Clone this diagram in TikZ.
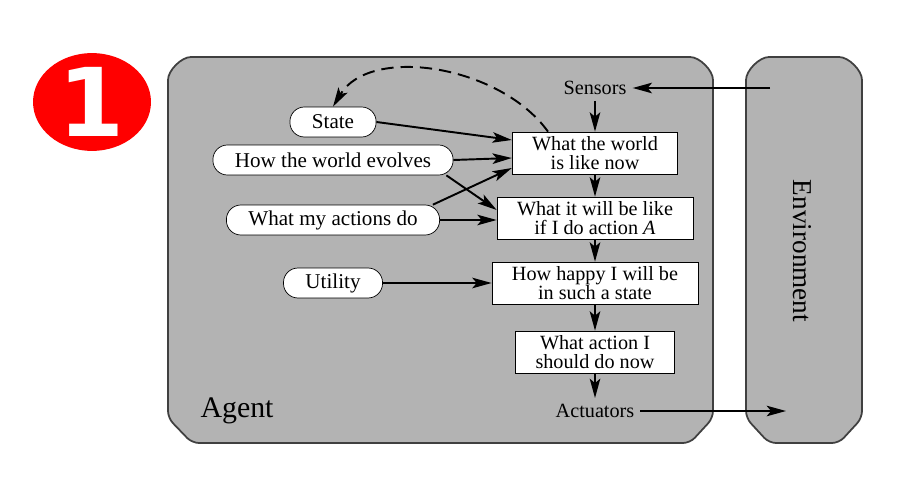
\documentclass[tikz,border=0pt]{standalone}
\usepackage{fontspec}
\setmainfont{Liberation Serif}
\newfontfamily\badgefont{DejaVu Sans}
\usetikzlibrary{arrows.meta,shapes.geometric}

\definecolor{panelgray}{HTML}{B3B3B3}
\definecolor{framegray}{HTML}{404040}

\tikzset{
    txt/.style={font=\fontsize{11.5}{10.5}\selectfont, align=center},
    knowl/.style={txt, font=\fontsize{12}{12}\selectfont, draw, fill=white, rounded corners=0.29cm, minimum height=0.6cm, inner xsep=0.44cm, inner ysep=1pt},
    stepbox/.style={txt, draw, fill=white, minimum height=0.84cm, inner xsep=0.4cm, inner ysep=1pt},
    frame/.style={draw=framegray, line width=1pt, fill=panelgray, rounded corners=4pt},
    flow/.style={line width=1.1pt, -{Stealth[length=11pt,width=6pt,inset=2.5pt]}}
}

\begin{document}
\begin{tikzpicture}[x=0.02cm, y=-0.02cm]
                \useasboundingbox (0,0) rectangle (918,486);
                % badge
                \node(badge) at(92, 102) [ellipse, fill=red, minimum width=2.36cm, minimum height=1.88cm, inner sep=0pt,
                    text=white, font=\badgefont\bfseries\fontsize{54}{54}\selectfont] {1};
                % agent and environment
                \draw[frame] (168,418) -- (168,87) arc[start angle=180, end angle=90, radius=0.6cm]
                    -- (683,57) arc[start angle=90, end angle=0, radius=0.6cm] -- (713,418) -- (690,443) -- (192,443) -- cycle;
                \draw[frame] (746,418) -- (746,87) arc[start angle=180, end angle=90, radius=0.6cm]
                    -- (832,57) arc[start angle=90, end angle=0, radius=0.6cm] -- (862,418) -- (839,443) -- (769,443) -- cycle;
                \node(agent_l) at(237, 411) [font=\fontsize{17}{17}\selectfont] {Agent};
                \node(env_l) at(802, 251) [rotate=-90, font=\fontsize{15.5}{15.5}\selectfont] {Environment};
                \coordinate(env_in) at(770, 88);
                \coordinate(env_out) at(786, 411);
                % knowledge
                \node(state_m) at(333, 122) [knowl] {State};
                \node(evol_m)  at(333, 160) [knowl] {How the world evolves};
                \node(acts_m)  at(333, 220) [knowl] {What my actions do};
                \node(util_m)  at(333, 283) [knowl] {Utility};
                % reasoning chain
                \node(sens_t) at(595, 88) [txt] {Sensors};
                \node(now_b)   at(595, 153) [stepbox] {What the world\\is like now};
                \node(will_b)  at(595, 218) [stepbox] {What it will be like\\if I do action \textit{A}};
                \node(happy_b) at(595, 283) [stepbox] {How happy I will be\\in such a state};
                \node(do_b)    at(595, 352) [stepbox] {What action I\\should do now};
                \node(actu_t) at(595, 411) [txt] {Actuators};
                \draw[flow] (env_in) -- (sens_t);
                \draw[flow] (sens_t) -- (now_b);
                \draw[flow] (now_b) -- (will_b);
                \draw[flow] (will_b) -- (happy_b);
                \draw[flow] (happy_b) -- (do_b);
                \draw[flow] (do_b) -- (actu_t);
                \draw[flow] (actu_t) -- (env_out);
                \draw[flow] (state_m.east) -- ([yshift=0.26cm]now_b.west);
                \draw[flow] (evol_m.east) -- ([yshift=-0.1cm]now_b.west);
                \draw[flow] ([xshift=-4pt]evol_m.south east) -- ([yshift=0.16cm]will_b.west);
                \draw[flow] ([xshift=-4pt]acts_m.north east) -- ([yshift=-0.3cm]now_b.west);
                \draw[flow] (acts_m.east) -- ([yshift=-0.04cm]will_b.west);
                \draw[flow] (util_m.east) -- (happy_b.west);
                \draw[flow, dashed, dash pattern=on 7pt off 4pt]
                    ([xshift=-0.94cm]now_b.north) .. controls (500,65) and (370,45) .. (state_m.north);
            \end{tikzpicture}
\end{document}
